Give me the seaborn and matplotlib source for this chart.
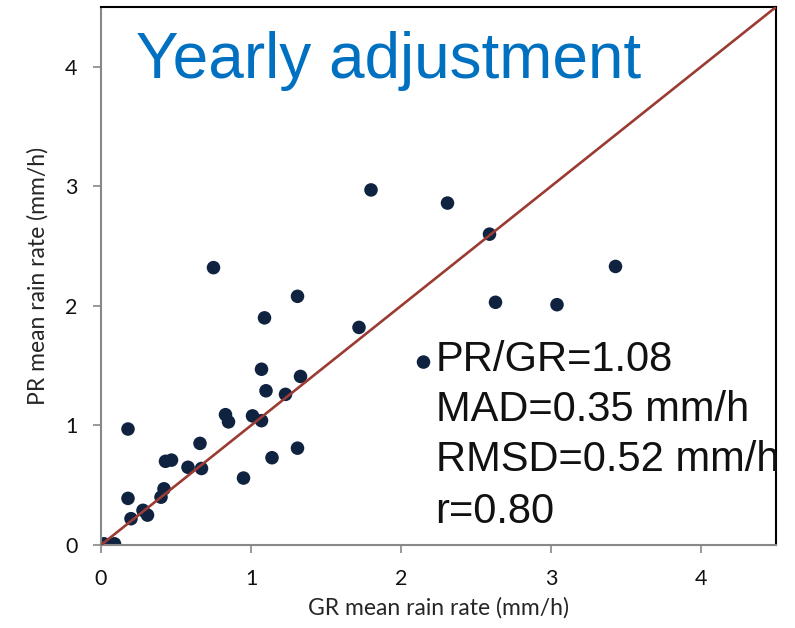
import matplotlib
matplotlib.use("Agg")
import matplotlib.pyplot as plt
import seaborn as sns
import pandas as pd

gr = [0.02, 0.09, 0.18, 0.18, 0.20, 0.28, 0.31, 0.40, 0.42, 0.43, 0.47, 0.58,
      0.66, 0.67, 0.75, 0.83, 0.85, 0.95, 1.01, 1.07, 1.07, 1.09, 1.10, 1.14,
      1.23, 1.31, 1.31, 1.33, 1.72, 1.80, 2.15, 2.31, 2.59, 2.63, 3.04, 3.43]
pr = [0.01, 0.01, 0.97, 0.39, 0.22, 0.29, 0.25, 0.40, 0.47, 0.70, 0.71, 0.65,
      0.85, 0.64, 2.32, 1.09, 1.03, 0.56, 1.08, 1.04, 1.47, 1.90, 1.29, 0.73,
      1.26, 0.81, 2.08, 1.41, 1.82, 2.97, 1.53, 2.86, 2.60, 2.03, 2.01, 2.33]
one_to_one = [0.0, 4.5]
ticks = [0, 1, 2, 3, 4]
stats = ["PR/GR=1.08", "MAD=0.35 mm/h", "RMSD=0.52 mm/h", "r=0.80"]
title = "Yearly adjustment"

sns.set_theme(style="white")
plt.rcParams['font.family'] = ['Lato', 'DejaVu Sans']

fig = plt.figure(figsize=(7.95, 6.28), dpi=100)
ax = fig.add_axes([101/795, 83/628, 675/795, 538/628])

df = pd.DataFrame({"GR": gr, "PR": pr})
sns.lineplot(x=one_to_one, y=one_to_one, ax=ax, color="#9b3b33", linewidth=1.9, zorder=3)
sns.scatterplot(data=df, x="GR", y="PR", ax=ax, color="#0f2341", s=95,
                edgecolor="none", zorder=2)

ax.set_xlim(0, 4.5)
ax.set_ylim(0, 4.5)
ax.set_xticks(ticks)
ax.set_yticks(ticks)
ax.set_xticklabels([str(t) for t in ticks])
ax.set_yticklabels([str(t) for t in ticks])
ax.tick_params(axis="both", which="major", direction="out", length=6, width=1.2,
               color="#888888", labelsize=15.5, labelcolor="#111111", pad=11,
               bottom=True, left=True)
ax.set_xlabel("GR mean rain rate (mm/h)", fontsize=16.5, color="#262626", labelpad=6)
ax.set_ylabel("PR mean rain rate (mm/h)", fontsize=16.5, color="#262626", labelpad=12)

for side in ["left", "bottom"]:
    ax.spines[side].set_color("#888888")
    ax.spines[side].set_linewidth(1.5)
for side in ["top", "right"]:
    ax.spines[side].set_color("#000000")
    ax.spines[side].set_linewidth(1.5)

ax.text(0.23, 4.05, title, fontsize=46, color="#0070c0",
        family=["Liberation Sans", "DejaVu Sans"], ha="left", va="center")

ys = [1.55, 1.13, 0.71, 0.28]
for s, yv in zip(stats, ys):
    ax.text(2.23, yv, s, fontsize=30, color="#111111",
            family=["Liberation Sans", "DejaVu Sans"], ha="left", va="center")

fig.savefig("out.png", dpi=100)
